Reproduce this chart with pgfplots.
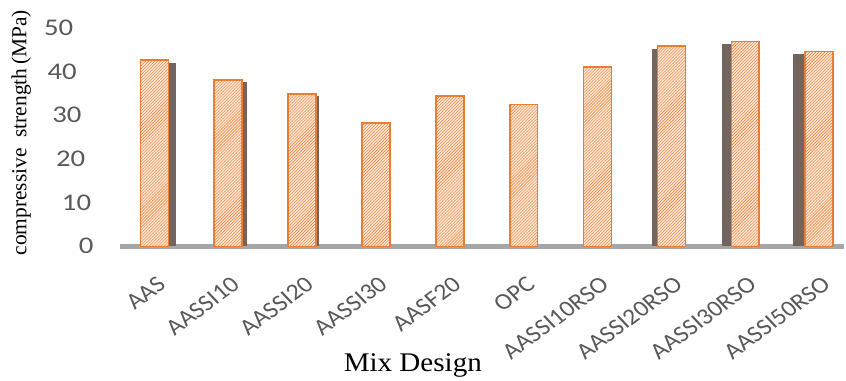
\documentclass[border=0pt]{standalone}
\usepackage{fontspec}
\setmainfont{Liberation Serif}
\newfontfamily\tickfont{Carlito}
\usepackage{pgfplots}
\pgfplotsset{compat=1.18}
\usetikzlibrary{patterns}
\definecolor{barorange}{HTML}{ED7D31}
\definecolor{barfill}{HTML}{FCE4D3}
\definecolor{basegray}{HTML}{A6A6A6}
\definecolor{ticktext}{HTML}{595959}
\definecolor{sidegray}{HTML}{5A4A40}
\begin{document}
\begin{tikzpicture}
\begin{axis}[
  set layers=standard,
  scale only axis,
  width=726pt, height=219pt,
  xmin=-0.47, xmax=9.33,
  ymin=0, ymax=50,
  ytick={0,10,20,30,40,50},
  yticklabels={{0},{10\rule{2pt}{0pt}},{20\rule{7pt}{0pt}},{30\rule{10pt}{0pt}},{40\rule{14pt}{0pt}},{50\rule{17pt}{0pt}}},
  xtick={0,1,2,3,4,5,6,7,8,9},
  xticklabels={AAS,AASSI10,AASSI20,AASSI30,AASF20,OPC,AASSI10RSO,AASSI20RSO,AASSI30RSO,AASSI50RSO},
  axis y line*=left,
  y axis line style={draw=none},
  axis x line*=bottom,
  x axis line style={draw=basegray, line width=5pt, -},
  major tick length=0pt,
  yticklabel style={font=\tickfont\fontsize{24}{24}\selectfont, text=ticktext, xshift=-22pt, xscale=1.2},
  xticklabel style={font=\tickfont\fontsize{23}{23}\selectfont, text=ticktext, xscale=1.13, rotate=40, anchor=north east, xshift=-14pt, yshift=-20pt},
  xlabel={Mix Design},
  xlabel style={font=\fontsize{27}{27}\selectfont, xscale=1.08, at={(axis description cs:0.405,-0.545)}, anchor=center},
  ylabel={compressive\ \ strength\,(MPa)},
  ylabel style={font=\fontsize{21.5}{21.5}\selectfont, inner sep=0pt, at={(axis description cs:-0.136,0.52)}, anchor=center, rotate=0},
  clip=false,
]
% dark side faces (3-D look)
\addplot[ybar, bar width=8pt, bar shift=18pt, draw=none, fill=sidegray!85] coordinates {(0,42.0)};
\addplot[ybar, bar width=5pt, bar shift=16.5pt, draw=none, fill=sidegray!85] coordinates {(1,37.6)};
\addplot[ybar, bar width=3pt, bar shift=15.5pt, draw=none, fill=sidegray!85] coordinates {(2,34.4)};
\addplot[ybar, bar width=5pt, bar shift=-16.5pt, draw=none, fill=sidegray!85] coordinates {(7,45.2)};
\addplot[ybar, bar width=9pt, bar shift=-18.5pt, draw=none, fill=sidegray!85] coordinates {(8,46.3)};
\addplot[ybar, bar width=12pt, bar shift=-20pt, draw=none, fill=sidegray!85] coordinates {(9,44.0)};
% front faces
\addplot[ybar, bar width=28pt, draw=barorange, line width=1.6pt, fill=barfill,
  postaction={pattern=north east lines, pattern color=barorange}]
  coordinates {(0,42.7) (1,38.1) (2,34.9) (3,28.3) (4,34.4) (5,32.5) (6,41.0) (7,45.8) (8,46.9) (9,44.6)};
\path (axis description cs:-0.1653,-0.598) rectangle (axis description cs:1,1.128);
\end{axis}
\end{tikzpicture}
\end{document}
